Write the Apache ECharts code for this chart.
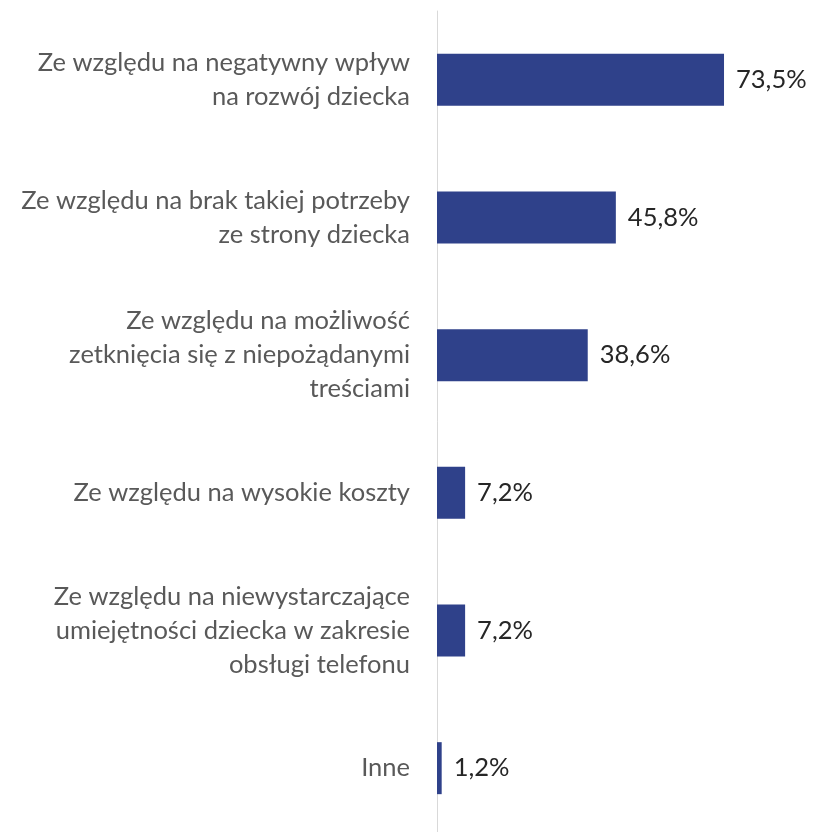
<!DOCTYPE html>
<html><head><meta charset="utf-8">
<script src="https://cdn.jsdelivr.net/npm/echarts@6/dist/echarts.min.js"></script>
<style>html,body{margin:0;padding:0;background:#fff}#c{width:813px;height:832px}</style>
</head><body><div id="c"></div>
<script>
const categories = [
  "Ze względu na negatywny wpływ\nna rozwój dziecka",
  "Ze względu na brak takiej potrzeby\nze strony dziecka",
  "Ze względu na możliwość\nzetknięcia się z niepożądanymi\ntreściami",
  "Ze względu na wysokie koszty",
  "Ze względu na niewystarczające\numiejętności dziecka w zakresie\nobsługi telefonu",
  "Inne"
];
const values = [73.5, 45.8, 38.6, 7.2, 7.2, 1.2];

const chart = echarts.init(document.getElementById('c'));
chart.setOption({
  animation: false,
  grid: { left: 437, top: 11, width: 312.4, height: 826, containLabel: false, outerBoundsMode: 'none' },
  xAxis: { type: 'value', min: 0, max: 80, show: false },
  yAxis: {
    type: 'category', inverse: true, data: categories,
    axisLine: { show: true, lineStyle: { color: '#D9D9D9', width: 1 } },
    axisTick: { show: false },
    axisLabel: { margin: 27, color: '#595959', fontFamily: 'Lato', fontSize: 25.5, lineHeight: 34, align: 'right' }
  },
  series: [{
    type: 'bar', data: values, barWidth: 52,
    itemStyle: { color: '#2F418A' },
    label: { show: true, position: 'right', distance: 12, color: '#262626', fontFamily: 'Lato', fontSize: 25.5,
      formatter: p => p.value.toFixed(1).replace('.', ',') + '%' }
  }]
});
</script></body></html>
